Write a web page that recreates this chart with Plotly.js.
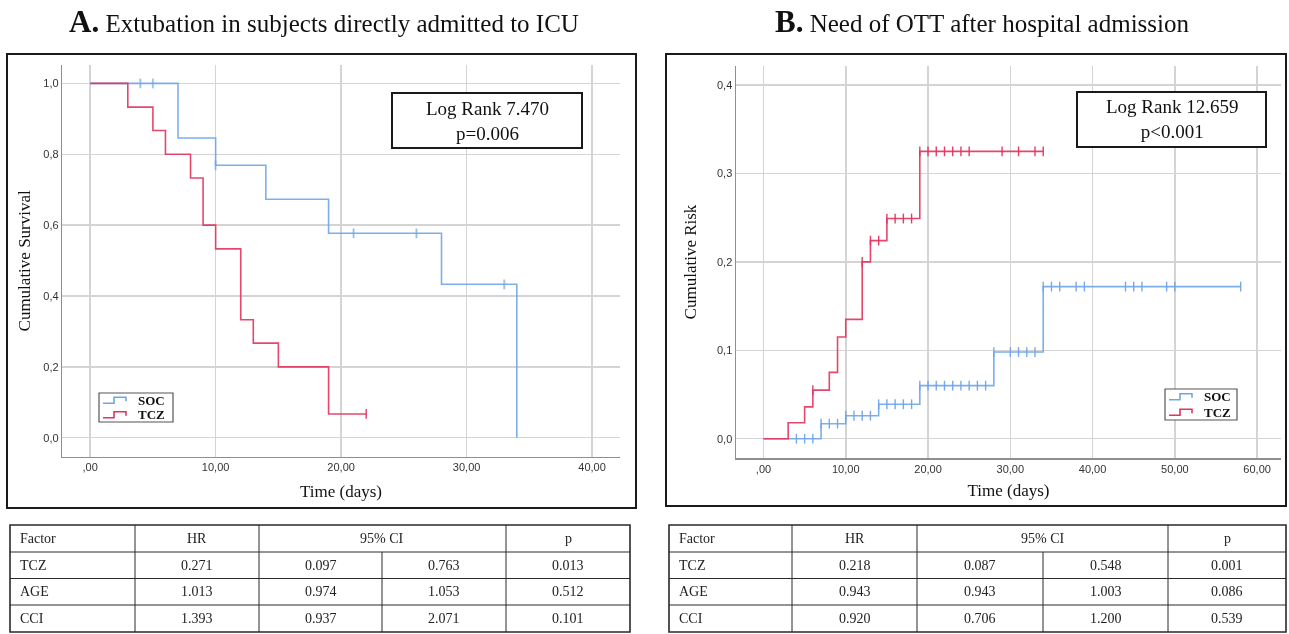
<!DOCTYPE html>
<html>
<head>
<meta charset="utf-8">
<script src="https://cdn.plot.ly/plotly-3.0.1.min.js"></script>
<style>
  html, body { margin: 0; padding: 0; background: #ffffff; }
  #chart { width: 1289px; height: 634px; }
</style>
</head>
<body>
<div id="chart"></div>
<script>
// ---------------- DATA ----------------
const seriesNames = ['SOC', 'TCZ'];

// Panel A: extubation in subjects directly admitted to ICU (cumulative survival)
const A_SOC_time = [0, 7, 10, 14, 19, 28, 34];
const A_SOC_surv = [1.0, 0.846, 0.769, 0.673, 0.577, 0.433, 0.0];
const A_SOC_cens = [4, 5, 10, 21, 26, 33];
const A_TCZ_time = [0, 3, 5, 6, 8, 9, 10, 12, 13, 15, 19, 22];
const A_TCZ_surv = [1.0, 0.933, 0.867, 0.8, 0.733, 0.6, 0.533, 0.333, 0.267, 0.2, 0.067, 0.067];
const A_TCZ_cens = [22];

// Panel B: need of OTT after hospital admission (cumulative risk)
const B_SOC_time = [0, 7, 10, 14, 19, 28, 34, 58];
const B_SOC_risk = [0, 0.017, 0.026, 0.039, 0.060, 0.098, 0.172, 0.172];
const B_SOC_cens = [4, 5, 6, 7, 8, 9, 10, 11, 12, 13, 14, 15, 16, 17, 18, 19, 20, 21, 22, 23, 24, 25, 26, 27,
                    28, 30, 31, 32, 33, 34, 35, 36, 38, 39, 44, 45, 46, 49, 50, 58];
const B_TCZ_time = [0, 3, 5, 6, 8, 9, 10, 12, 13, 15, 19, 34];
const B_TCZ_risk = [0, 0.018, 0.036, 0.055, 0.075, 0.115, 0.135, 0.200, 0.224, 0.249, 0.325, 0.325];
const B_TCZ_cens = [6, 12, 13, 14, 15, 16, 17, 18, 19, 20, 21, 22, 23, 24, 25, 29, 31, 33, 34];

// Tick labels
const A_xTickVals = [0, 10, 20, 30, 40];
const A_xTickText = [',00', '10,00', '20,00', '30,00', '40,00'];
const A_yTickVals = [0, 0.2, 0.4, 0.6, 0.8, 1.0];
const A_yTickText = ['0,0', '0,2', '0,4', '0,6', '0,8', '1,0'];
const B_xTickVals = [0, 10, 20, 30, 40, 50, 60];
const B_xTickText = [',00', '10,00', '20,00', '30,00', '40,00', '50,00', '60,00'];
const B_yTickVals = [0, 0.1, 0.2, 0.3, 0.4];
const B_yTickText = ['0,0', '0,1', '0,2', '0,3', '0,4'];

// Texts
const A_title = 'Extubation in subjects directly admitted to ICU';
const B_title = 'Need of OTT after hospital admission';
const A_logRank = ['Log Rank 7.470', 'p=0.006'];
const B_logRank = ['Log Rank 12.659', 'p<0.001'];

// Cox regression tables
const tableHeader = ['Factor', 'HR', '95% CI', 'p'];
const factors = ['TCZ', 'AGE', 'CCI'];
const A_HR = ['0.271', '1.013', '1.393'];
const A_CIlow = ['0.097', '0.974', '0.937'];
const A_CIhigh = ['0.763', '1.053', '2.071'];
const A_p = ['0.013', '0.512', '0.101'];
const B_HR = ['0.218', '0.943', '0.920'];
const B_CIlow = ['0.087', '0.943', '0.706'];
const B_CIhigh = ['0.548', '1.003', '1.200'];
const B_p = ['0.001', '0.086', '0.539'];

// ---------------- STYLE / LAYOUT ----------------
const W = 1289, H = 634;
const fx = px => px / W;
const fy = py => 1 - py / H;
const colors = { SOC: '#6ea5ea', TCZ: '#e2335c' };
const serif = 'Liberation Serif, Times New Roman, serif';
const sans = 'Liberation Sans, Arial, sans-serif';

function stepValue(times, vals, t) {
  let v = vals[0];
  for (let i = 0; i < times.length; i++) if (times[i] <= t) v = vals[i];
  return v;
}

function kmTraces(times, vals, cens, name, xa, ya) {
  const c = colors[name];
  return [
    { x: times, y: vals, xaxis: xa, yaxis: ya, type: 'scatter', mode: 'lines',
      line: { shape: 'hv', color: c, width: 1.6 }, opacity: 0.9, name: name, showlegend: false, hoverinfo: 'x+y' },
    { x: cens, y: cens.map(t => stepValue(times, vals, t)), xaxis: xa, yaxis: ya, type: 'scatter', mode: 'markers',
      marker: { symbol: 'line-ns-open', size: 7, color: c, line: { color: c, width: 1.4 } }, opacity: 0.95,
      name: name + ' censored', showlegend: false, hoverinfo: 'x+y' }
  ];
}

const traces = [
  ...kmTraces(A_SOC_time, A_SOC_surv, A_SOC_cens, 'SOC', 'x', 'y'),
  ...kmTraces(A_TCZ_time, A_TCZ_surv, A_TCZ_cens, 'TCZ', 'x', 'y'),
  ...kmTraces(B_SOC_time, B_SOC_risk, B_SOC_cens, 'SOC', 'x2', 'y2'),
  ...kmTraces(B_TCZ_time, B_TCZ_risk, B_TCZ_cens, 'TCZ', 'x2', 'y2')
];

function axisCommon() {
  return {
    showgrid: true, gridcolor: '#d4d4d4', gridwidth: 1.5, zeroline: false,
    showline: true, linecolor: '#8f8f8f', linewidth: 1.5, mirror: false,
    ticks: '', tickfont: { family: sans, size: 11, color: '#333' }, fixedrange: true
  };
}

const shapes = [];
const annotations = [];

// Panel outer frames
function frame(x0, y0, x1, y1, w) {
  shapes.push({ type: 'rect', xref: 'paper', yref: 'paper', x0: fx(x0), x1: fx(x1), y0: fy(y1), y1: fy(y0),
    line: { color: '#1a1a1a', width: w }, fillcolor: 'rgba(0,0,0,0)', layer: 'above' });
}
frame(7, 54, 636, 508, 2);
frame(666, 54, 1286, 506, 2);

// Titles
annotations.push({ xref: 'paper', yref: 'paper', x: fx(324), y: fy(21), xanchor: 'center', yanchor: 'middle', showarrow: false,
  text: '<span style="font-size:31px"><b>A.</b></span> ' + A_title, font: { family: serif, size: 25, color: '#111' } });
annotations.push({ xref: 'paper', yref: 'paper', x: fx(982), y: fy(21), xanchor: 'center', yanchor: 'middle', showarrow: false,
  text: '<span style="font-size:31px"><b>B.</b></span> ' + B_title, font: { family: serif, size: 25, color: '#111' } });

// Log rank boxes
function logRankBox(x0, y0, x1, y1, lines) {
  shapes.push({ type: 'rect', xref: 'paper', yref: 'paper', x0: fx(x0), x1: fx(x1), y0: fy(y1), y1: fy(y0),
    line: { color: '#1a1a1a', width: 2 }, fillcolor: '#ffffff', layer: 'above' });
  annotations.push({ xref: 'paper', yref: 'paper', x: fx((x0 + x1) / 2), y: fy((y0 + y1) / 2), xanchor: 'center', yanchor: 'middle',
    showarrow: false, text: lines.join('<br>'), font: { family: serif, size: 19, color: '#111' } });
}
logRankBox(392, 93, 582, 148, A_logRank);
logRankBox(1077, 92, 1266, 147, B_logRank);

// Legends (step-shaped keys like the original)
function legendBox(x0, y0, x1, y1) {
  shapes.push({ type: 'rect', xref: 'paper', yref: 'paper', x0: fx(x0), x1: fx(x1), y0: fy(y1), y1: fy(y0),
    line: { color: '#555', width: 1.2 }, fillcolor: '#ffffff', layer: 'above' });
  const rowH = (y1 - y0) / seriesNames.length;
  seriesNames.forEach((nm, i) => {
    const cy = y0 + rowH * (i + 0.5);
    const gx = x0 + 4;
    const p = [[gx, cy + 3], [gx + 11, cy + 3], [gx + 11, cy - 3], [gx + 23, cy - 3], [gx + 23, cy + 1]];
    shapes.push({ type: 'path', xref: 'paper', yref: 'paper', layer: 'above',
      path: 'M' + p.map(q => fx(q[0]) + ',' + fy(q[1])).join(' L'),
      line: { color: colors[nm], width: 1.6 } });
    annotations.push({ xref: 'paper', yref: 'paper', x: fx(gx + 33), y: fy(cy), xanchor: 'left', yanchor: 'middle',
      showarrow: false, text: '<b>' + nm + '</b>', font: { family: serif, size: 13, color: '#111' } });
  });
}
legendBox(99, 393, 173, 422);
legendBox(1165, 389, 1237, 420);

// Tables
function table(x0, colEdges, rowEdges, hr, lo, hi, p) {
  const xs = colEdges, ys = rowEdges;
  const L = xs[0], R = xs[xs.length - 1], T = ys[0], B = ys[ys.length - 1];
  const line = (a, b, c, d, w) => shapes.push({ type: 'line', xref: 'paper', yref: 'paper',
    x0: fx(a), y0: fy(b), x1: fx(c), y1: fy(d), line: { color: '#2a2a2a', width: w } });
  shapes.push({ type: 'rect', xref: 'paper', yref: 'paper', x0: fx(L), x1: fx(R), y0: fy(B), y1: fy(T),
    line: { color: '#2a2a2a', width: 1.6 }, fillcolor: 'rgba(0,0,0,0)' });
  for (let i = 1; i < ys.length - 1; i++) line(L, ys[i], R, ys[i], 1);
  [1, 2, 4].forEach(i => line(xs[i], T, xs[i], B, 1));
  line(xs[3], ys[1], xs[3], B, 1);
  const txt = (x, y, s, anchor) => annotations.push({ xref: 'paper', yref: 'paper', x: fx(x), y: fy(y),
    xanchor: anchor, yanchor: 'middle', showarrow: false, text: s, font: { family: serif, size: 14, color: '#222' } });
  const cx = i => (xs[i] + xs[i + 1]) / 2;
  const cyr = r => (ys[r] + ys[r + 1]) / 2;
  txt(L + 8, cyr(0), tableHeader[0], 'left');
  txt(cx(1), cyr(0), tableHeader[1], 'center');
  txt((xs[2] + xs[4]) / 2, cyr(0), tableHeader[2], 'center');
  txt(cx(4), cyr(0), tableHeader[3], 'center');
  factors.forEach((f, r) => {
    txt(L + 8, cyr(r + 1), f, 'left');
    txt(cx(1), cyr(r + 1), hr[r], 'center');
    txt(cx(2), cyr(r + 1), lo[r], 'center');
    txt(cx(3), cyr(r + 1), hi[r], 'center');
    txt(cx(4), cyr(r + 1), p[r], 'center');
  });
}
const rowsY = [525, 552, 578.5, 605, 632];
table(10, [10, 135, 259, 382, 506, 630], rowsY, A_HR, A_CIlow, A_CIhigh, A_p);
table(669, [669, 792, 917, 1043, 1168, 1286], rowsY, B_HR, B_CIlow, B_CIhigh, B_p);

const layout = {
  width: W, height: H,
  margin: { l: 0, r: 0, t: 0, b: 0 },
  paper_bgcolor: '#ffffff', plot_bgcolor: '#ffffff',
  showlegend: false,
  xaxis: Object.assign(axisCommon(), {
    domain: [fx(62.3), fx(619.7)], range: [-2.22, 42.2], tickvals: A_xTickVals, ticktext: A_xTickText, anchor: 'y',
    title: { text: 'Time (days)', font: { family: serif, size: 17, color: '#111' }, standoff: 12 }
  }),
  yaxis: Object.assign(axisCommon(), {
    domain: [fy(456.7), fy(65)], range: [-0.0536, 1.052], tickvals: A_yTickVals, ticktext: A_yTickText, anchor: 'x',
    title: { text: 'Cumulative Survival', font: { family: serif, size: 17, color: '#111' }, standoff: 8 }
  }),
  xaxis2: Object.assign(axisCommon(), {
    domain: [fx(736), fx(1281)], range: [-3.34, 62.9], tickvals: B_xTickVals, ticktext: B_xTickText, anchor: 'y2',
    title: { text: 'Time (days)', font: { family: serif, size: 17, color: '#111' }, standoff: 10 }
  }),
  yaxis2: Object.assign(axisCommon(), {
    domain: [fy(458), fy(66)], range: [-0.0218, 0.4215], tickvals: B_yTickVals, ticktext: B_yTickText, anchor: 'x2',
    title: { text: 'Cumulative Risk', font: { family: serif, size: 17, color: '#111' }, standoff: 16 }
  }),
  shapes: shapes,
  annotations: annotations
};

Plotly.newPlot('chart', traces, layout, { displayModeBar: false, staticPlot: true });
</script>
</body>
</html>
